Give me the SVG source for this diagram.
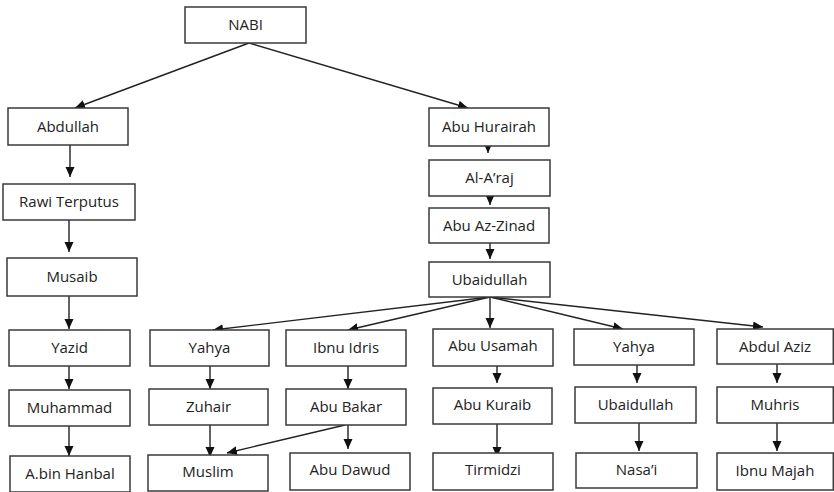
<svg xmlns="http://www.w3.org/2000/svg" width="834" height="492" viewBox="0 0 834 492">
<style>
.box rect{fill:#fff;stroke:#3a3a3a;stroke-width:1.5}
.box text{font-family:"Open Sans","Liberation Sans",sans-serif;font-size:15px;fill:#222;text-anchor:middle}
#connectors line{stroke:#222;stroke-width:1.4;marker-end:url(#arr)}
</style>
<defs>
<marker id="arr" markerUnits="userSpaceOnUse" markerWidth="11" markerHeight="10" refX="10" refY="4.5" orient="auto">
<path d="M0,0 L10,4.5 L0,9 Z" fill="#111"/>
</marker>
</defs>
<rect width="834" height="492" fill="#fff"/>
<g id="connectors">
<line x1="249" y1="43" x2="75" y2="108"/>
<line x1="249" y1="43" x2="468" y2="108"/>
<line x1="70" y1="145" x2="70" y2="177"/>
<line x1="69" y1="220" x2="69" y2="252"/>
<line x1="69" y1="296" x2="69" y2="329"/>
<line x1="69" y1="366" x2="69" y2="389"/>
<line x1="69" y1="426" x2="69" y2="456"/>
<line x1="488" y1="146" x2="488" y2="153"/>
<line x1="490" y1="196" x2="490" y2="205"/>
<line x1="490" y1="243" x2="490" y2="259"/>
<line x1="490" y1="297" x2="213" y2="330"/>
<line x1="490" y1="297" x2="348" y2="330"/>
<line x1="490" y1="297" x2="490" y2="328"/>
<line x1="490" y1="297" x2="623" y2="329"/>
<line x1="490" y1="297" x2="763" y2="327"/>
<line x1="210" y1="366" x2="210" y2="389"/>
<line x1="210" y1="425" x2="210" y2="457"/>
<line x1="348" y1="366" x2="348" y2="389"/>
<line x1="348" y1="425" x2="348" y2="449"/>
<line x1="345" y1="425" x2="227" y2="453"/>
<line x1="497" y1="366" x2="497" y2="383"/>
<line x1="497" y1="424" x2="497" y2="457"/>
<line x1="637" y1="365" x2="637" y2="383"/>
<line x1="639" y1="423" x2="639" y2="451"/>
<line x1="777" y1="364" x2="777" y2="383"/>
<line x1="777" y1="423" x2="777" y2="451"/>
</g>
<g id="nabi" class="box"><rect x="185" y="7" width="121" height="36"/><text x="245.5" y="30">NABI</text></g>
<g id="abdullah" class="box"><rect x="8" y="108" width="120" height="37"/><text x="68" y="131.5">Abdullah</text></g>
<g id="abu-hurairah" class="box"><rect x="429" y="108" width="120" height="38"/><text x="489" y="132">Abu Hurairah</text></g>
<g id="al-araj" class="box"><rect x="429" y="160" width="121" height="36"/><text x="489.5" y="183">Al-A’raj</text></g>
<g id="abu-az-zinad" class="box"><rect x="429" y="208" width="120" height="35"/><text x="489" y="230.5">Abu Az-Zinad</text></g>
<g id="ubaidullah-1" class="box"><rect x="429" y="262" width="121" height="35"/><text x="489.5" y="284.5">Ubaidullah</text></g>
<g id="rawi-terputus" class="box"><rect x="3" y="184" width="132" height="36"/><text x="69" y="207">Rawi Terputus</text></g>
<g id="musaib" class="box"><rect x="7" y="258" width="130" height="38"/><text x="72" y="282">Musaib</text></g>
<g id="yazid" class="box"><rect x="9" y="330" width="121" height="36"/><text x="69.5" y="353">Yazid</text></g>
<g id="muhammad" class="box"><rect x="9" y="390" width="121" height="36"/><text x="69.5" y="413">Muhammad</text></g>
<g id="a-bin-hanbal" class="box"><rect x="10" y="456" width="120" height="36"/><text x="70" y="479">A.bin Hanbal</text></g>
<g id="yahya-1" class="box"><rect x="150" y="330" width="119" height="36"/><text x="209.5" y="353">Yahya</text></g>
<g id="zuhair" class="box"><rect x="149" y="389" width="119" height="36"/><text x="208.5" y="412">Zuhair</text></g>
<g id="muslim" class="box"><rect x="148" y="455" width="120" height="36"/><text x="208" y="477">Muslim</text></g>
<g id="ibnu-idris" class="box"><rect x="286" y="330" width="120" height="36"/><text x="346" y="353">Ibnu Idris</text></g>
<g id="abu-bakar" class="box"><rect x="286" y="389" width="120" height="36"/><text x="346" y="412">Abu Bakar</text></g>
<g id="abu-dawud" class="box"><rect x="290" y="453" width="120" height="37"/><text x="350" y="475">Abu Dawud</text></g>
<g id="abu-usamah" class="box"><rect x="433" y="329" width="120" height="37"/><text x="493" y="351">Abu Usamah</text></g>
<g id="abu-kuraib" class="box"><rect x="433" y="388" width="119" height="36"/><text x="492.5" y="410">Abu Kuraib</text></g>
<g id="tirmidzi" class="box"><rect x="433" y="453" width="120" height="37"/><text x="493" y="475">Tirmidzi</text></g>
<g id="yahya-2" class="box"><rect x="574" y="329" width="120" height="36"/><text x="634" y="352">Yahya</text></g>
<g id="ubaidullah-2" class="box"><rect x="575" y="387" width="121" height="36"/><text x="635.5" y="410">Ubaidullah</text></g>
<g id="nasai" class="box"><rect x="576" y="453" width="121" height="35"/><text x="636.5" y="475">Nasa’i</text></g>
<g id="abdul-aziz" class="box"><rect x="717" y="329" width="116.3" height="35"/><text x="775" y="351.5">Abdul Aziz</text></g>
<g id="muhris" class="box"><rect x="717" y="387" width="116.3" height="36"/><text x="775" y="410">Muhris</text></g>
<g id="ibnu-majah" class="box"><rect x="717" y="453" width="116.3" height="37"/><text x="775" y="476">Ibnu Majah</text></g>
</svg>
